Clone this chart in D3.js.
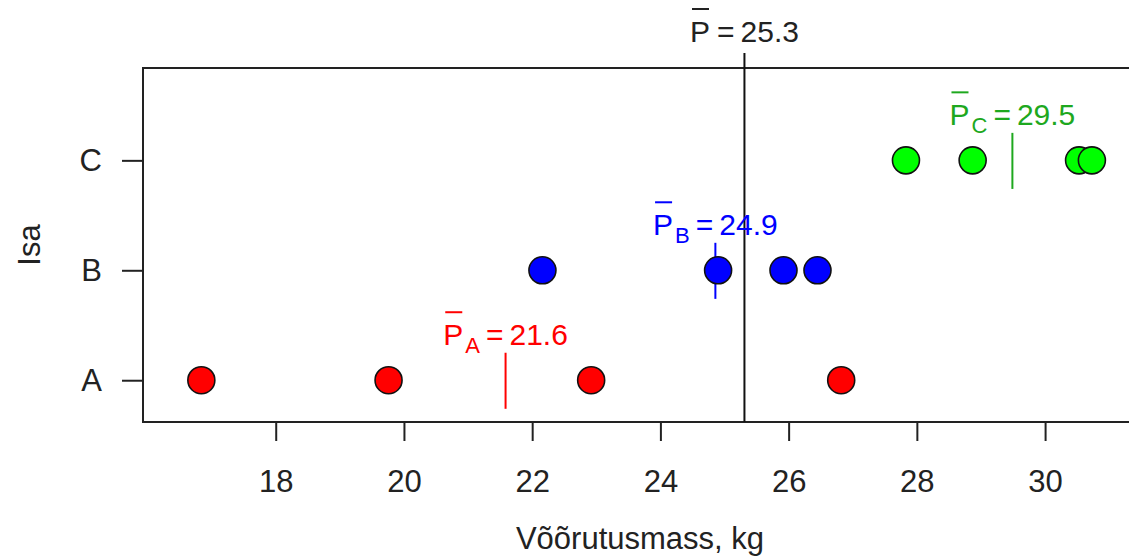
<!DOCTYPE html>
<html>
<head>
<meta charset="utf-8">
<script src="https://d3js.org/d3.v7.min.js"></script>
<style>
  body { margin: 0; background: #fff; }
  text { font-family: "Liberation Sans", Arial, sans-serif; }
</style>
</head>
<body>
<div id="chart"></div>
<script>
// data
var groups = ["A", "B", "C"];
var valuesA = [16.84, 19.76, 22.92, 26.82];
var valuesB = [22.16, 24.90, 25.92, 26.45];
var valuesC = [27.83, 28.87, 30.53, 30.73];
var groupColors = ["#ff0000", "#0000ff", "#00ff00"];
var labelColors = ["#ff0000", "#0000ff", "#1ea81e"];
var xTicks = [18, 20, 22, 24, 26, 28, 30];

var series = [valuesA, valuesB, valuesC];

var W = 1129, H = 558;
var margin = {top: 68, right: -2, bottom: 136, left: 143};
var width = W - margin.left - margin.right,
    height = H - margin.top - margin.bottom;

var svg = d3.select("#chart").append("svg")
    .attr("width", W).attr("height", H);

var g = svg.append("g")
    .attr("transform", "translate(" + margin.left + "," + margin.top + ")");

var x = d3.scaleLinear().domain([15.93, 31.34]).range([0, width]);
var y = d3.scaleLinear().domain([0.62, 3.84]).range([height, 0]);

// x axis
var xAxis = g.append("g")
    .attr("transform", "translate(0," + height + ")")
    .call(d3.axisBottom(x).tickValues(xTicks).tickSize(19).tickPadding(29).tickFormat(d3.format("d")));
xAxis.select(".domain").remove();
xAxis.selectAll("line").attr("stroke", "#222").attr("stroke-width", 2);
xAxis.selectAll("text").attr("font-size", 31).attr("fill", "#222");

// y axis
var yAxis = g.append("g")
    .call(d3.axisLeft(y).tickValues([1, 2, 3]).tickSize(21).tickPadding(20)
      .tickFormat(function(d) { return groups[d - 1]; }));
yAxis.select(".domain").remove();
yAxis.selectAll("line").attr("stroke", "#222").attr("stroke-width", 2);
yAxis.selectAll("text").attr("font-size", 31).attr("fill", "#222");

// box
g.append("rect")
  .attr("x", 0).attr("y", 0).attr("width", width).attr("height", height)
  .attr("fill", "none").attr("stroke", "#222").attr("stroke-width", 2);

// axis titles
svg.append("text")
  .attr("x", margin.left + width / 2 + 3).attr("y", 549)
  .attr("text-anchor", "middle").attr("font-size", 31).attr("fill", "#222")
  .text("Võõrutusmass, kg");

svg.append("text")
  .attr("transform", "translate(40,245) rotate(-90)")
  .attr("text-anchor", "middle").attr("font-size", 31).attr("fill", "#222")
  .text("Isa");

// label like  P̄_sub = value, centered on cx
function meanLabel(parent, cx, baseY, sub, val, color) {
  var t = parent.append("text").attr("y", baseY).attr("font-size", 30).attr("fill", color);
  t.append("tspan").text("P");
  if (sub) {
    t.append("tspan").attr("font-size", 22).attr("dy", 8).attr("dx", 2).text(sub);
    t.append("tspan").attr("dy", -8).attr("dx", 6).text("=");
  } else {
    t.append("tspan").attr("dx", 7).text("=");
  }
  t.append("tspan").attr("dx", 6).text(val);
  var w = t.node().getComputedTextLength() + (sub ? 14 : 13);
  t.attr("x", cx - w / 2);
  var ext = t.node().getExtentOfChar(0);
  parent.append("line")
    .attr("x1", ext.x + 2).attr("x2", ext.x + ext.width - 1)
    .attr("y1", baseY - 33).attr("y2", baseY - 33)
    .attr("stroke", color).attr("stroke-width", 2);
}

// overall mean
var all = [].concat(valuesA, valuesB, valuesC);
var grand = d3.mean(all);
g.append("line")
  .attr("x1", x(grand)).attr("x2", x(grand))
  .attr("y1", -15).attr("y2", height)
  .attr("stroke", "#111").attr("stroke-width", 2);
meanLabel(svg, margin.left + x(grand), 42, null, d3.format(".1f")(grand), "#222");

// group means
series.forEach(function(vals, i) {
  var m = d3.mean(vals);
  g.append("line")
    .attr("x1", x(m)).attr("x2", x(m))
    .attr("y1", y(i + 1 + 0.25)).attr("y2", y(i + 1 - 0.26))
    .attr("stroke", labelColors[i]).attr("stroke-width", 2);
  meanLabel(g, x(m), y(i + 1) - 35, groups[i], d3.format(".1f")(m), labelColors[i]);
});

// points
series.forEach(function(vals, i) {
  g.selectAll(".pt" + i)
    .data(vals)
    .enter().append("circle")
    .attr("class", "pt" + i)
    .attr("cx", function(d) { return x(d); })
    .attr("cy", y(i + 1))
    .attr("r", 13.5)
    .attr("fill", groupColors[i])
    .attr("stroke", "#111").attr("stroke-width", 1.6);
});
</script>
</body>
</html>
